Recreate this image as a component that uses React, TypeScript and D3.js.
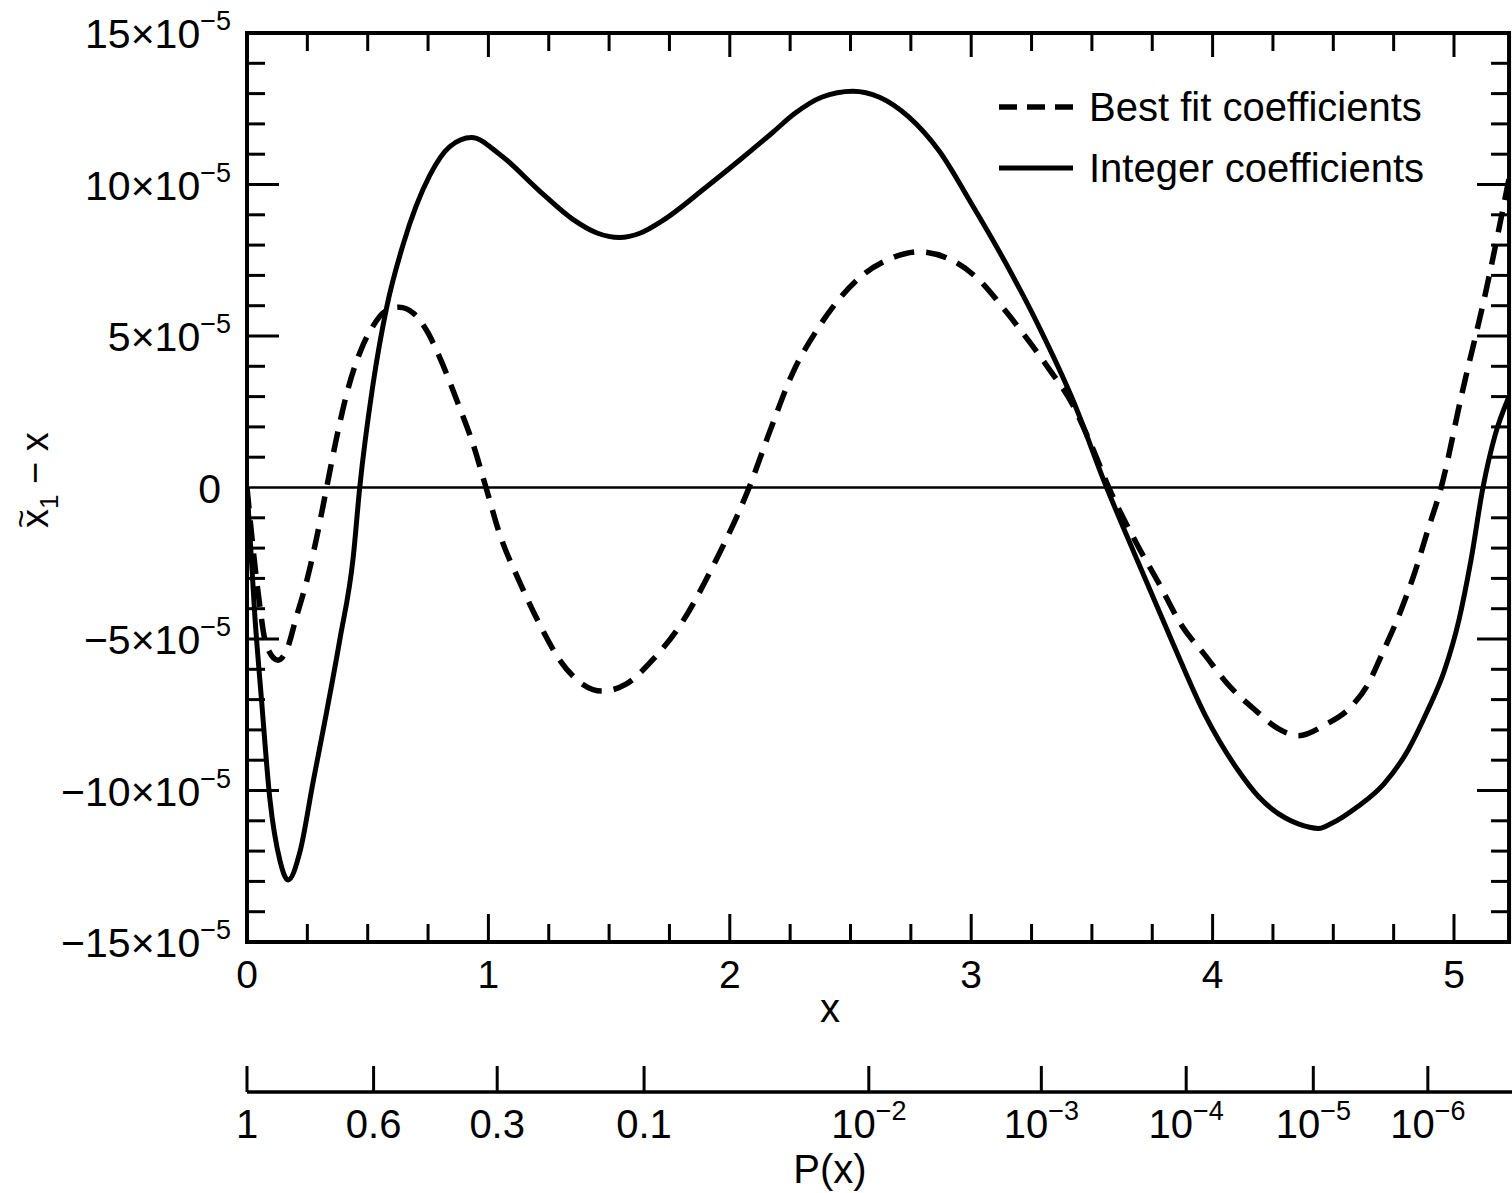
import React from "react";
import * as d3 from "d3";

// ---------- data (values in units of 1e-5) ----------
const integerX = [0, 0.033, 0.06, 0.095, 0.136, 0.17, 0.22, 0.273, 0.33, 0.385, 0.44, 0.467, 0.52, 0.58, 0.646, 0.757, 0.84, 0.93, 1.046, 1.21, 1.35, 1.45, 1.543, 1.63, 1.72, 1.9, 2.04, 2.175, 2.27, 2.38, 2.51, 2.62, 2.74, 2.866, 3.0, 3.14, 3.28, 3.42, 3.556, 3.69, 3.83, 3.97, 4.107, 4.19, 4.3, 4.355, 4.44, 4.49, 4.6, 4.71, 4.81, 4.89, 4.96, 5.02, 5.07, 5.12, 5.17, 5.228];
const integerY = [0, -4.3, -7.0, -10.3, -12.3, -12.95, -12.0, -9.75, -7.4, -5.0, -2.3, 0, 3.3, 6.0, 8.0, 10.3, 11.25, 11.55, 11.0, 9.8, 8.85, 8.4, 8.25, 8.4, 8.8, 9.9, 10.8, 11.7, 12.35, 12.88, 13.08, 12.88, 12.24, 11.12, 9.38, 7.45, 5.32, 2.91, 0.1, -2.44, -5.04, -7.53, -9.35, -10.2, -10.9, -11.1, -11.25, -11.1, -10.54, -9.78, -8.66, -7.37, -6.05, -4.39, -2.41, 0, 1.72, 3.0];

const bestFitX = [0, 0.045, 0.08, 0.128, 0.17, 0.2, 0.25, 0.29, 0.33, 0.37, 0.42, 0.47, 0.52, 0.57, 0.63, 0.69, 0.75, 0.8, 0.88, 0.936, 0.99, 1.046, 1.13, 1.21, 1.295, 1.39, 1.47, 1.57, 1.68, 1.8, 1.93, 2.08, 2.175, 2.26, 2.357, 2.45, 2.56, 2.67, 2.78, 2.92, 3.03, 3.14, 3.24, 3.32, 3.42, 3.5, 3.57, 3.69, 3.776, 3.87, 3.97, 4.065, 4.18, 4.27, 4.355, 4.466, 4.574, 4.64, 4.71, 4.78, 4.84, 4.89, 4.95, 5.03, 5.13, 5.228];
const bestFitY = [0, -3.4, -5.2, -5.7, -5.25, -4.4, -3.0, -1.6, 0, 1.6, 3.3, 4.5, 5.3, 5.8, 5.95, 5.75, 5.1, 4.26, 2.65, 1.44, 0, -1.52, -3.13, -4.48, -5.69, -6.49, -6.72, -6.49, -5.69, -4.48, -2.6, 0, 2.05, 3.77, 5.15, 6.19, 7.07, 7.57, 7.78, 7.5, 6.87, 5.85, 4.82, 3.94, 2.74, 1.35, 0, -1.92, -3.14, -4.53, -5.55, -6.51, -7.37, -7.95, -8.19, -7.83, -7.23, -6.54, -5.35, -4.06, -2.74, -1.45, 0.1, 3.0, 6.4, 10.2];

const xTickLabels = [0, 1, 2, 3, 4, 5];
const yTickLabels = [15, 10, 5, 0, -5, -10, -15];
const pTicks = [1, 0.6, 0.3, 0.1, 1e-2, 1e-3, 1e-4, 1e-5, 1e-6];

const X_END = 5.228;
const FONT = "'Liberation Sans', Arial, Helvetica, sans-serif";

// two-sided normal tail probability P(x) = erfc(x / sqrt 2)
function erfc(x: number): number {
  const z = Math.abs(x);
  const t = 1 / (1 + 0.5 * z);
  const r =
    t *
    Math.exp(
      -z * z - 1.26551223 +
        t * (1.00002368 + t * (0.37409196 + t * (0.09678418 + t * (-0.18628806 + t * (0.27886807 + t * (-1.13520398 + t * (1.48851587 + t * (-0.82215223 + t * 0.17087277))))))))
    );
  return x >= 0 ? r : 2 - r;
}
function pOfX(x: number) {
  return erfc(x / Math.SQRT2);
}
function xOfP(p: number) {
  if (p >= 1) return 0;
  let lo = 0, hi = 10;
  for (let i = 0; i < 80; i++) {
    const m = (lo + hi) / 2;
    if (pOfX(m) > p) lo = m; else hi = m;
  }
  return (lo + hi) / 2;
}

export default function App() {
  const W = 1512, H = 1193;
  const x = d3.scaleLinear().domain([0, 5]).range([247, 1454]);
  const y = d3.scaleLinear().domain([-15, 15]).range([942, 33]);
  const left = x(0), right = x(X_END), top = y(15), bottom = y(-15);

  const line = d3
    .line<[number, number]>()
    .x((d) => x(d[0]))
    .y((d) => y(d[1]))
    .curve(d3.curveMonotoneX);

  const integerPath = line(integerX.map((v, i) => [v, integerY[i]]) as [number, number][]) || "";
  const bestPath = line(bestFitX.map((v, i) => [v, bestFitY[i]]) as [number, number][]) || "";

  const xMinor = d3.range(0, 21).map((i) => i * 0.25).concat([5.25]).filter((v) => v < X_END);
  const yMinor = d3.range(-15, 16);

  const pAxisY = 1092;

  const supLabel = (exp: string, base: string, size = 26) => (
    <>
      {base}
      <tspan fontSize={size} dy={-18}>{exp}</tspan>
    </>
  );

  return (
    <svg width={W} height={H} style={{ position: "absolute", left: 0, top: 0, background: "#fff" }} fontFamily={FONT}>
      <defs>
        <clipPath id="plot">
          <rect x={left} y={top - 2} width={right - left} height={bottom - top + 4} />
        </clipPath>
      </defs>
      <rect width={W} height={H} fill="#fff" />

      {/* zero line */}
      <line x1={left} x2={right} y1={y(0)} y2={y(0)} stroke="#000" strokeWidth={2.5} />

      {/* ticks */}
      {xMinor.map((v) => {
        const major = Math.abs(v - Math.round(v)) < 1e-9;
        const len = major ? 28 : 18;
        return (
          <g key={"xt" + v}>
            <line x1={x(v)} x2={x(v)} y1={bottom} y2={bottom - len} stroke="#000" strokeWidth={3} />
            <line x1={x(v)} x2={x(v)} y1={top} y2={top + (major ? 24 : 18)} stroke="#000" strokeWidth={3} />
          </g>
        );
      })}
      {yMinor.map((v) => {
        if (v === 15 || v === -15 || v === 0) return null;
        const major = v % 5 === 0;
        const len = major ? 32 : 18;
        return (
          <g key={"yt" + v}>
            <line x1={left} x2={left + len} y1={y(v)} y2={y(v)} stroke="#000" strokeWidth={3} />
            <line x1={right} x2={right - len} y1={y(v)} y2={y(v)} stroke="#000" strokeWidth={3} />
          </g>
        );
      })}

      {/* frame */}
      <rect x={left} y={top} width={right - left} height={bottom - top} fill="none" stroke="#000" strokeWidth={4} />

      {/* curves */}
      <g clipPath="url(#plot)">
        <path d={bestPath} fill="none" stroke="#000" strokeWidth={5.5} strokeDasharray="21 12" strokeLinecap="butt" />
        <path d={integerPath} fill="none" stroke="#000" strokeWidth={5} strokeLinejoin="round" />
      </g>

      {/* y tick labels */}
      {yTickLabels.map((v) => {
        if (v === 0)
          return (
            <text key={"yl" + v} x={221} y={y(v) + 15} fontSize={41} textAnchor="end">0</text>
          );
        const base = (v < 0 ? "\u2212" : "") + Math.abs(v) + "\u00d710";
        return (
          <text key={"yl" + v} x={231} y={y(v) + 15} fontSize={41} textAnchor="end">
            {supLabel("\u22125", base, 27)}
          </text>
        );
      })}

      {/* x tick labels */}
      {xTickLabels.map((v) => (
        <text key={"xl" + v} x={x(v)} y={988} fontSize={39} textAnchor="middle">{v}</text>
      ))}
      <text x={830} y={1022} fontSize={40} textAnchor="middle">x</text>

      {/* y axis label */}
      <g transform="translate(38,491) rotate(-90)">
        <text x={-28} y={-6} fontSize={32} textAnchor="middle">~</text>
        <text x={-37} y={10} fontSize={38} textAnchor="start">
          x<tspan fontSize={26} dy={10}>1</tspan>
          <tspan dy={-10}> {"\u2212"} x</tspan>
        </text>
      </g>

      {/* legend */}
      <line x1={999} x2={1073} y1={107} y2={107} stroke="#000" strokeWidth={5.5} strokeDasharray="18 10" />
      <text x={1089} y={121} fontSize={40}>Best fit coefficients</text>
      <line x1={999} x2={1073} y1={168} y2={168} stroke="#000" strokeWidth={5} />
      <text x={1089} y={182} fontSize={40}>Integer coefficients</text>

      {/* secondary P(x) axis */}
      <line x1={x(0)} x2={W} y1={pAxisY} y2={pAxisY} stroke="#000" strokeWidth={3.5} />
      {pTicks.map((p) => {
        const px = x(xOfP(p));
        const exp = Math.round(Math.log10(p));
        return (
          <g key={"p" + p}>
            <line x1={px} x2={px} y1={pAxisY} y2={pAxisY - 26} stroke="#000" strokeWidth={3} />
            <text x={px} y={1138} fontSize={40} textAnchor="middle">
              {p >= 0.1 ? String(p) : supLabel("\u2212" + Math.abs(exp), "10", 27)}
            </text>
          </g>
        );
      })}
      <text x={830} y={1183} fontSize={40} textAnchor="middle">P(x)</text>
    </svg>
  );
}
